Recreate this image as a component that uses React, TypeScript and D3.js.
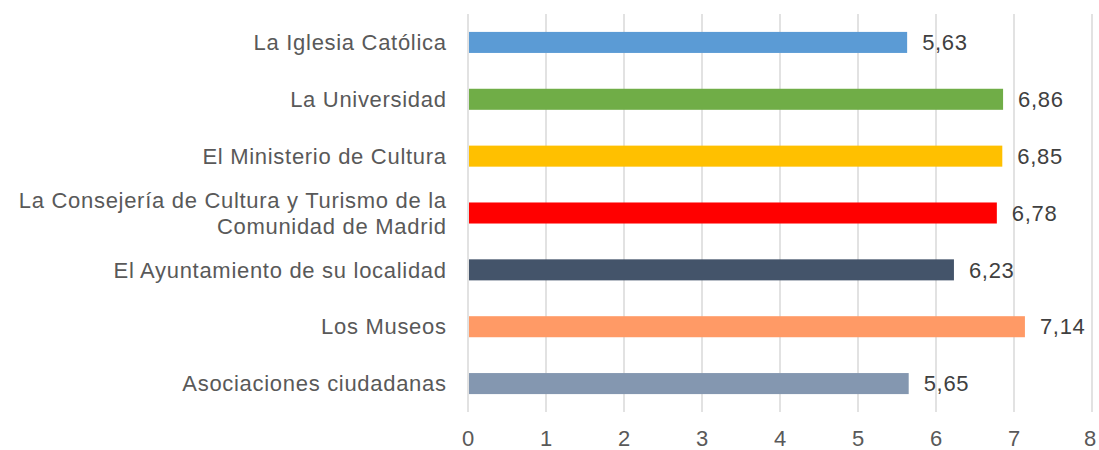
import React from "react";
import * as d3 from "d3";

const categories: string[][] = [
  ["La Iglesia Católica"],
  ["La Universidad"],
  ["El Ministerio de Cultura"],
  ["La Consejería de Cultura y Turismo de la", "Comunidad de Madrid"],
  ["El Ayuntamiento de su localidad"],
  ["Los Museos"],
  ["Asociaciones ciudadanas"],
];
const values: number[] = [5.63, 6.86, 6.85, 6.78, 6.23, 7.14, 5.65];
const colors: string[] = ["#5B9BD5", "#70AD47", "#FFC000", "#FF0000", "#44546A", "#FF9A66", "#8497B0"];
const ticks: number[] = [0, 1, 2, 3, 4, 5, 6, 7, 8];

const W = 1099;
const H = 450;
const left = 468;
const right = 1092;
const top = 14;
const bottom = 412;
const font = "'Liberation Sans', Arial, sans-serif";
const fs = 22;
const ls = 0.7;

export default function App() {
  const x = d3.scaleLinear().domain([0, 8]).range([left, right]);
  const y = d3
    .scaleBand<number>()
    .domain(d3.range(categories.length))
    .range([top, bottom])
    .paddingInner(0.63)
    .paddingOuter(0.315);
  const fmt = (v: number) => v.toFixed(2).replace(".", ",");
  return (
    <svg width={W} height={H} style={{ position: "absolute", left: 0, top: 0, background: "#fff" }}>
      {ticks.map((t) => (
        <line key={"g" + t} x1={x(t)} x2={x(t)} y1={top} y2={bottom} stroke="#D9D9D9" strokeWidth={1.5} />
      ))}
      {values.map((v, i) => {
        const yb = y(i)!;
        const bh = y.bandwidth();
        const cy = yb + bh / 2;
        const lines = categories[i];
        const lh = 26;
        return (
          <g key={i}>
            <rect x={x(0) + 1} y={yb} width={x(v) - x(0) - 1} height={bh} fill={colors[i]} />
            <text
              x={x(v) + 15}
              y={cy}
              dy="0.35em"
              fontFamily={font}
              fontSize={fs}
              letterSpacing={ls}
              fill="#404040"
            >
              {fmt(v)}
            </text>
            {lines.map((l, j) => (
              <text
                key={j}
                x={446 + ls}
                y={cy + (j - (lines.length - 1) / 2) * lh}
                dy="0.35em"
                textAnchor="end"
                fontFamily={font}
                fontSize={fs}
                letterSpacing={ls}
                fill="#595959"
              >
                {l}
              </text>
            ))}
          </g>
        );
      })}
      {ticks.map((t) => (
        <text
          key={"t" + t}
          x={t === 8 ? x(t) - 2 : x(t)}
          y={438}
          dy="0.35em"
          textAnchor="middle"
          fontFamily={font}
          fontSize={fs}
          fill="#595959"
        >
          {t}
        </text>
      ))}
    </svg>
  );
}
